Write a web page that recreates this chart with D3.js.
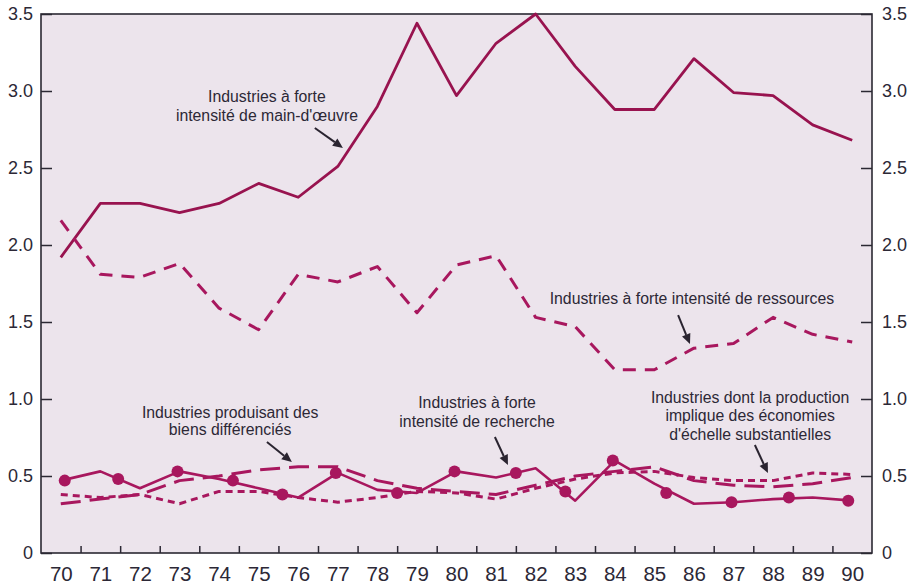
<!DOCTYPE html>
<html><head><meta charset="utf-8">
<script src="https://cdn.jsdelivr.net/npm/d3@7"></script>
<style>html,body{margin:0;padding:0;background:#fff;}</style>
</head><body>
<svg id="chart" width="917" height="585"></svg>
<script>
// ---- data ----
const years = [70,71,72,73,74,75,76,77,78,79,80,81,82,83,84,85,86,87,88,89,90];
const tickYears = [70.5,71.5,72.5,73.5,74.5,75.5,76.5,77.5,78.5,79.5,80.5,81.5,82.5,83.5,84.5,85.5,86.5,87.5,88.5,89.5];
const yTicks = [0,0.5,1.0,1.5,2.0,2.5,3.0,3.5];
const yTickLabels = ["0","0.5","1.0","1.5","2.0","2.5","3.0","3.5"];

const labour        = [1.92,2.27,2.27,2.21,2.27,2.40,2.31,2.51,2.90,3.44,2.97,3.31,3.50,3.16,2.88,2.88,3.21,2.99,2.97,2.78,2.68];
const resources     = [2.16,1.81,1.79,1.88,1.59,1.45,1.81,1.76,1.86,1.56,1.87,1.93,1.53,1.47,1.19,1.19,1.33,1.36,1.53,1.42,1.37];
const research      = [0.47,0.53,0.42,0.53,0.48,0.42,0.36,0.52,0.41,0.39,0.53,0.49,0.55,0.34,0.60,0.45,0.32,0.33,0.35,0.36,0.34];
const differentiated= [0.32,0.35,0.38,0.47,0.50,0.54,0.56,0.56,0.47,0.42,0.40,0.38,0.44,0.50,0.53,0.56,0.47,0.44,0.43,0.45,0.49];
const scaleEcon     = [0.38,0.36,0.38,0.32,0.40,0.40,0.36,0.33,0.36,0.40,0.39,0.35,0.42,0.48,0.52,0.53,0.49,0.47,0.47,0.52,0.51];

// circle markers on the research line (positions)
const markerYears  = [70.1,71.45,72.95,74.35,75.6,76.95,78.5,79.95,81.5,82.75,83.95,85.3,86.95,88.4,89.9];
const markerValues = [0.47,0.48,0.53,0.47,0.38,0.52,0.39,0.53,0.52,0.40,0.60,0.39,0.33,0.36,0.34];

// annotations (text lines anchored in data units)
const annotations = [
  {lines:["Industries à forte","intensité de main-d'œuvre"], year:75.21, vals:[2.929,2.805], arrow:[[76.42,2.760],[77.13,2.630]]},
  {lines:["Industries à forte intensité de ressources"], year:85.95, vals:[1.617], arrow:[[85.60,1.545],[85.90,1.357]]},
  {lines:["Industries produisant des","biens différenciés"], year:74.28, vals:[0.877,0.766], arrow:[[75.21,0.721],[75.84,0.591]]},
  {lines:["Industries à forte","intensité de recherche"], year:80.52, vals:[0.942,0.818], arrow:[[80.97,0.753],[81.30,0.571]]},
  {lines:["Industries dont la production","implique des économies","d'échelle substantielles"], year:87.42, vals:[0.974,0.857,0.734], arrow:[[87.54,0.701],[87.87,0.519]]}
];

// ---- chart ----
const svg = d3.select("#chart");
const L=41, R=872, T=14, B=553;
const x = d3.scaleLinear().domain([69.5,90.5]).range([L,R]);
const y = d3.scaleLinear().domain([0,3.5]).range([B,T]);
const axisColor = "#2b2833";
const lineColor = "#a8175e";
const mainColor = "#98134f";
const textColor = "#2c2836";

svg.append("rect").attr("x",L).attr("y",T).attr("width",R-L).attr("height",B-T).attr("fill","#ece4ec");

// bottom ticks (inward)
const gxt = svg.append("g").attr("transform",`translate(0,${B})`)
  .call(d3.axisBottom(x).tickValues(tickYears).tickSize(-7).tickFormat(()=>""));
gxt.select(".domain").remove();
gxt.selectAll("line").attr("stroke",axisColor).attr("stroke-width",1.5);

// bottom labels
const gxl = svg.append("g").attr("transform",`translate(0,${B})`)
  .call(d3.axisBottom(x).tickValues(years).tickSize(0).tickPadding(13).tickFormat(d=>String(d)));
gxl.select(".domain").remove();
gxl.selectAll("text").attr("fill",textColor).style("font-family","'Liberation Sans Narrow','Arial Narrow','Liberation Sans',sans-serif").style("font-size","20.5px");

// left axis
const gyl = svg.append("g").attr("transform",`translate(${L},0)`)
  .call(d3.axisLeft(y).tickValues(yTicks).tickSize(-11).tickPadding(8).tickFormat((d,i)=>yTickLabels[i]));
gyl.select(".domain").remove();
gyl.selectAll("line").attr("stroke",axisColor).attr("stroke-width",1.5);
gyl.selectAll("text").attr("fill",textColor).style("font-family","'Liberation Sans',Arial,sans-serif").style("font-size","18px");

// right axis
const gyr = svg.append("g").attr("transform",`translate(${R},0)`)
  .call(d3.axisRight(y).tickValues(yTicks).tickSize(-11).tickPadding(10).tickFormat((d,i)=>yTickLabels[i]));
gyr.select(".domain").remove();
gyr.selectAll("line").attr("stroke",axisColor).attr("stroke-width",1.5);
gyr.selectAll("text").attr("fill",textColor).style("font-family","'Liberation Sans',Arial,sans-serif").style("font-size","18px");

// frame
svg.append("rect").attr("x",L).attr("y",T).attr("width",R-L).attr("height",B-T)
  .attr("fill","none").attr("stroke",axisColor).attr("stroke-width",1.6);

const line = d3.line().x((d,i)=>x(years[i])).y(d=>y(d));
const series = [
  {data:labour, color:mainColor, dash:null, w:2.8},
  {data:resources, color:lineColor, dash:"13,9", w:3},
  {data:differentiated, color:lineColor, dash:"20,9", w:3},
  {data:scaleEcon, color:lineColor, dash:"7,5", w:3},
  {data:research, color:lineColor, dash:null, w:2.6}
];
svg.append("g").selectAll("path").data(series).join("path")
  .attr("d",d=>line(d.data)).attr("fill","none")
  .attr("stroke",d=>d.color).attr("stroke-width",d=>d.w)
  .attr("stroke-dasharray",d=>d.dash).attr("stroke-linejoin","round");

svg.append("g").selectAll("circle").data(markerYears).join("circle")
  .attr("cx",d=>x(d)).attr("cy",(d,i)=>y(markerValues[i])).attr("r",6)
  .attr("fill",lineColor);

// annotations
const ga = svg.append("g");
annotations.forEach(a=>{
  a.lines.forEach((t,i)=>{
    ga.append("text").attr("x",x(a.year)).attr("y",y(a.vals[i]))
      .attr("text-anchor","middle").attr("fill",textColor)
      .style("font-family","'Liberation Sans',Arial,sans-serif").style("font-size","15.8px")
      .text(t);
  });
  const [p0,p1] = a.arrow;
  const x0=x(p0[0]), y0=y(p0[1]), x1=x(p1[0]), y1=y(p1[1]);
  const ang = Math.atan2(y1-y0,x1-x0);
  const hl=10, hw=4.5;
  const bx = x1 - hl*Math.cos(ang), by = y1 - hl*Math.sin(ang);
  ga.append("line").attr("x1",x0).attr("y1",y0).attr("x2",bx).attr("y2",by)
    .attr("stroke","#2a2430").attr("stroke-width",2);
  const px = -Math.sin(ang), py = Math.cos(ang);
  ga.append("path").attr("d",`M${x1},${y1}L${bx+px*hw},${by+py*hw}L${bx-px*hw},${by-py*hw}Z`)
    .attr("fill","#2a2430");
});
</script>
</body></html>
